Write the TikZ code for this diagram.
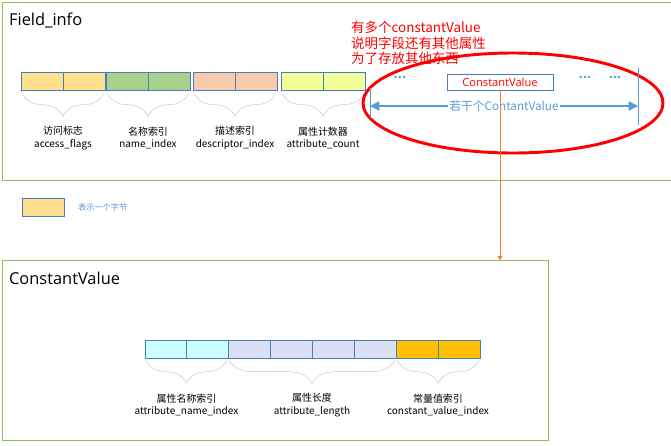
\documentclass[tikz,border=0pt]{standalone}
\usepackage{fontspec}
\setmainfont{Open Sans}
\newfontfamily\cjk{Noto Sans CJK SC}
\usetikzlibrary{decorations.pathreplacing,arrows.meta}
\definecolor{frame}{HTML}{8DBF5A}
\definecolor{cellline}{HTML}{4A7EBB}
\definecolor{cyel}{HTML}{FFE08F}
\definecolor{cgrn}{HTML}{A9D18E}
\definecolor{csal}{HTML}{F8CBAD}
\definecolor{clim}{HTML}{F2FF99}
\definecolor{ccya}{HTML}{CCFFFF}
\definecolor{clav}{HTML}{DAE0F2}
\definecolor{corg}{HTML}{FFC000}
\definecolor{tblue}{HTML}{5B9BD5}
\definecolor{orgline}{HTML}{ED7D31}
\tikzset{
  cell/.style={draw=cellline,thick},
  brc/.style={draw=gray!45,decorate,decoration={brace,mirror,amplitude=20pt}},
  lbl/.style={font=\cjk\fontsize{8.5}{11}\selectfont,align=center},
  title/.style={anchor=west,font=\fontsize{14}{16}\selectfont},
  dots/.style={text=tblue,font=\bfseries\large}
}
\begin{document}
\begin{tikzpicture}[x=0.03cm,y=-0.03cm]
	\useasboundingbox (0,0) rectangle (671,445);
	\draw[frame,thick] (2,2) rectangle (671,180);
	\node[title] (ftitle) at (5,20) {Field\_info};
	% field_info bytes
	\foreach \x/\c in {21/cyel,63/cyel,106/cgrn,148/cgrn,193/csal,235/csal,281/clim,323/clim}
		\draw[cell,fill=\c] (\x,72) rectangle ++(42,18);
	\foreach \a/\b/\zh/\en in {21/105/访问标志/access\_flags,106/190/名称索引/name\_index,193/277/描述索引/descriptor\_index,281/365/属性计数器/attribute\_count}{
		\draw[brc] (\a+1,93) -- (\b-1,93);
		\node[lbl] (f\a) at ({(\a+\b)/2},138) {\zh\\\en};
	}
	% constant value list
	\draw[red,line width=2.5pt] (513,103) ellipse (150 and 50);
	\node[draw=cellline,text=red,font=\fontsize{9.5}{10}\selectfont,minimum width=106*0.03cm,minimum height=16*0.03cm,inner sep=0pt] (cv) at (500,82) {ConstantValue};
	\node[dots] (d1) at (400,78) {...};
	\node[dots] (d2) at (585,78) {...};
	\node[dots] (d3) at (615,78) {...};
	\draw[tblue,thick] (370,88) -- (370,118);
	\draw[tblue,thick] (638,68) -- (638,125);
	\coordinate (la) at (370,106);
	\coordinate (lb) at (638,106);
	\draw[tblue,line width=1.2pt,{Triangle[length=8pt,width=8pt]}-{Triangle[length=8pt,width=8pt]}] (la) -- node[fill=white,inner sep=1pt,font=\cjk\fontsize{10}{12}\selectfont] {若干个ContantValue} (lb);
	\node[red,anchor=west,align=left,font=\cjk\fontsize{11.5}{13.5}\selectfont] (note) at (347,43) {有多个constantValue\\说明字段还有其他属性\\为了存放其他东西};
	% legend
	\draw[cell,fill=cyel] (22,198) rectangle (64,216);
	\node[anchor=west,text=tblue,font=\cjk\fontsize{7}{8}\selectfont] (leg) at (74,207) {表示一个字节};
	% ConstantValue attribute
	\draw[frame,thick] (2,260) rectangle (548,440);
	\node[title] (ctitle) at (5,278) {ConstantValue};
	\coordinate (cvtop) at (500,260);
	\draw[orgline,-{Triangle[]}] (cv) -- (cvtop);
	\foreach \x/\c in {145/ccya,186/ccya,228/clav,270/clav,312/clav,354/clav,396/corg,438/corg}
		\draw[cell,fill=\c] (\x,340) rectangle ++(42,18);
	\foreach \a/\b/\zh/\en in {145/228/属性名称索引/attribute\_name\_index,228/396/属性长度/attribute\_length,396/480/常量值索引/constant\_value\_index}{
		\draw[brc] (\a+1,360) -- (\b-1,360);
		\node[lbl] (c\a) at ({(\a+\b)/2},405) {\zh\\\en};
	}
\end{tikzpicture}
\end{document}
